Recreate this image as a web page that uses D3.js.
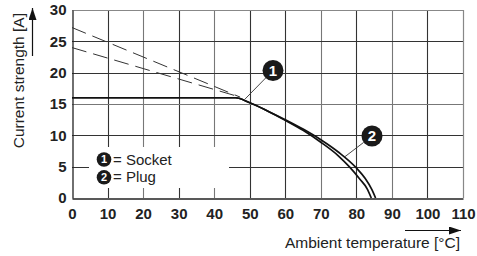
<!DOCTYPE html>
<html>
<head>
<meta charset="utf-8">
<script src="https://cdn.jsdelivr.net/npm/d3@7"></script>
<style>
  body { margin: 0; background: #fff; }
  svg { display: block; font-family: "Liberation Sans", Arial, sans-serif; }
</style>
</head>
<body>
<svg id="chart" width="477" height="256"></svg>
<script>
var xTicks = [0, 10, 20, 30, 40, 50, 60, 70, 80, 90, 100, 110];
var yTicks = [0, 5, 10, 15, 20, 25, 30];

// socket curve (inner)
var socketT = [0, 46, 50, 55, 60, 65, 70, 75, 78, 81, 83, 84.2];
var socketI = [16, 16, 15.2, 13.9, 12.4, 10.8, 8.9, 6.7, 5.0, 3.0, 1.5, 0];
// plug curve (outer)
var plugT = [0, 46, 50, 55, 60, 65, 70, 75, 80, 82.5, 84.3, 85.4];
var plugI = [16, 16, 15.2, 13.9, 12.5, 11.0, 9.3, 7.3, 4.8, 3.1, 1.4, 0];
// dashed extrapolations
var dashUpperT = [0, 47.3];
var dashUpperI = [27.2, 16.1];
var dashLowerT = [0, 47.3];
var dashLowerI = [24.0, 16.1];

var legendLabels = ["= Socket", "= Plug"];

var svg = d3.select("#chart");
var mLeft = 72, mTop = 10, width = 391, height = 188;
var x = d3.scaleLinear().domain([0, 110]).range([mLeft, mLeft + width]);
var y = d3.scaleLinear().domain([0, 30]).range([mTop + height, mTop]);

var g = svg.append("g");

// grid
var dark = [10, 30, 50, 60, 80, 100];
xTicks.slice(1, -1).forEach(function (t) {
  g.append("line")
    .attr("x1", Math.round(x(t)) + 0.5).attr("x2", Math.round(x(t)) + 0.5)
    .attr("y1", y(30)).attr("y2", y(0))
    .attr("stroke", dark.indexOf(t) >= 0 ? "#333" : "#777")
    .attr("stroke-width", 1.1);
});
yTicks.slice(1, -1).forEach(function (t) {
  g.append("line")
    .attr("x1", x(0)).attr("x2", x(110))
    .attr("y1", Math.round(y(t)) + 0.5).attr("y2", Math.round(y(t)) + 0.5)
    .attr("stroke", t == 15 ? "#777" : "#333")
    .attr("stroke-width", 1.1);
});
// frame
g.append("line").attr("x1", x(0)).attr("x2", x(110))
  .attr("y1", Math.round(y(30)) + 0.5).attr("y2", Math.round(y(30)) + 0.5)
  .attr("stroke", "#888").attr("stroke-width", 1.2);
g.append("line").attr("x1", Math.round(x(110)) + 0.5).attr("x2", Math.round(x(110)) + 0.5)
  .attr("y1", y(30)).attr("y2", y(0))
  .attr("stroke", "#888").attr("stroke-width", 1.2);

// legend box hides grid
g.append("rect").attr("x", 89).attr("y", 147).attr("width", 140).attr("height", 41)
  .attr("fill", "#fff");

// axes
var xAxis = g.append("g")
  .attr("transform", "translate(0," + (Math.round(y(0)) + 0.5) + ")")
  .call(d3.axisBottom(x).tickValues(xTicks).tickSize(0).tickPadding(10));
var yAxis = g.append("g")
  .attr("transform", "translate(" + (Math.round(x(0)) + 0.5) + ",0)")
  .call(d3.axisLeft(y).tickValues(yTicks).tickSize(0).tickPadding(6));
[xAxis, yAxis].forEach(function (a) {
  a.select(".domain").attr("stroke", "#222").attr("stroke-width", 1.3);
  a.selectAll("text")
    .style("font-family", "Liberation Sans, Arial, sans-serif")
    .style("font-size", "15px").style("font-weight", "bold").attr("fill", "#222");
});

// dashed lines
var line = d3.line().x(function (d) { return x(d[0]); }).y(function (d) { return y(d[1]); });
[[dashUpperT, dashUpperI], [dashLowerT, dashLowerI]].forEach(function (s) {
  g.append("path").datum(d3.zip(s[0], s[1])).attr("d", line)
    .attr("fill", "none").attr("stroke", "#333").attr("stroke-width", 1)
    .attr("stroke-dasharray", "15,7");
});

// curves
var curve = d3.line().x(function (d) { return x(d[0]); }).y(function (d) { return y(d[1]); })
  .curve(d3.curveMonotoneX);
[[socketT, socketI], [plugT, plugI]].forEach(function (s) {
  g.append("path").datum(d3.zip(s[0], s[1])).attr("d", curve)
    .attr("fill", "none").attr("stroke", "#111").attr("stroke-width", 1.7);
});

// callouts
function callout(cx, cy, r, tx, ty, label, fs) {
  var ang = Math.atan2(ty - cy, tx - cx);
  g.append("line")
    .attr("x1", cx + r * Math.cos(ang)).attr("y1", cy + r * Math.sin(ang))
    .attr("x2", tx).attr("y2", ty)
    .attr("stroke", "#333").attr("stroke-width", 0.9);
  g.append("circle").attr("cx", cx).attr("cy", cy).attr("r", r).attr("fill", "#1a1a1a");
  g.append("text").attr("x", cx).attr("y", cy).attr("dy", "0.36em")
    .attr("text-anchor", "middle").attr("fill", "#fff")
    .style("font-size", fs + "px").style("font-weight", "bold").text(label);
}
callout(273, 70.5, 10.5, x(48.7), y(15.8), "1", 15);
callout(372, 136, 10.5, x(76.8), y(6.6), "2", 15);

// legend
legendLabels.forEach(function (lab, i) {
  var cy = 159.5 + i * 17.8;
  g.append("circle").attr("cx", 104).attr("cy", cy).attr("r", 7.3).attr("fill", "#1a1a1a");
  g.append("text").attr("x", 104).attr("y", cy).attr("dy", "0.36em")
    .attr("text-anchor", "middle").attr("fill", "#fff")
    .style("font-size", "11px").style("font-weight", "bold").text(i + 1);
  g.append("text").attr("x", 113).attr("y", cy + 5)
    .attr("fill", "#222").style("font-size", "15px").text(lab);
});

// axis titles and arrows
svg.append("defs").append("marker").attr("id", "arr")
  .attr("viewBox", "0 0 12 8").attr("refX", 12).attr("refY", 4)
  .attr("markerWidth", 12).attr("markerHeight", 8).attr("markerUnits", "userSpaceOnUse")
  .attr("orient", "auto")
  .append("path").attr("d", "M0,0L12,4L0,8Z").attr("fill", "#111");

svg.append("line").attr("x1", 405).attr("y1", 230.5).attr("x2", 461).attr("y2", 230.5)
  .attr("stroke", "#111").attr("stroke-width", 1.2).attr("marker-end", "url(#arr)");
svg.append("text").attr("x", 460).attr("y", 248).attr("text-anchor", "end")
  .attr("fill", "#222").style("font-size", "15.5px").text("Ambient temperature [°C]");

svg.append("line").attr("x1", 32.5).attr("y1", 56).attr("x2", 32.5).attr("y2", 8)
  .attr("stroke", "#111").attr("stroke-width", 1.2).attr("marker-end", "url(#arr)");
svg.append("text").attr("transform", "translate(24,13)rotate(-90)").attr("text-anchor", "end")
  .attr("fill", "#222").style("font-size", "15.5px").text("Current strength [A]");
</script>
</body>
</html>
